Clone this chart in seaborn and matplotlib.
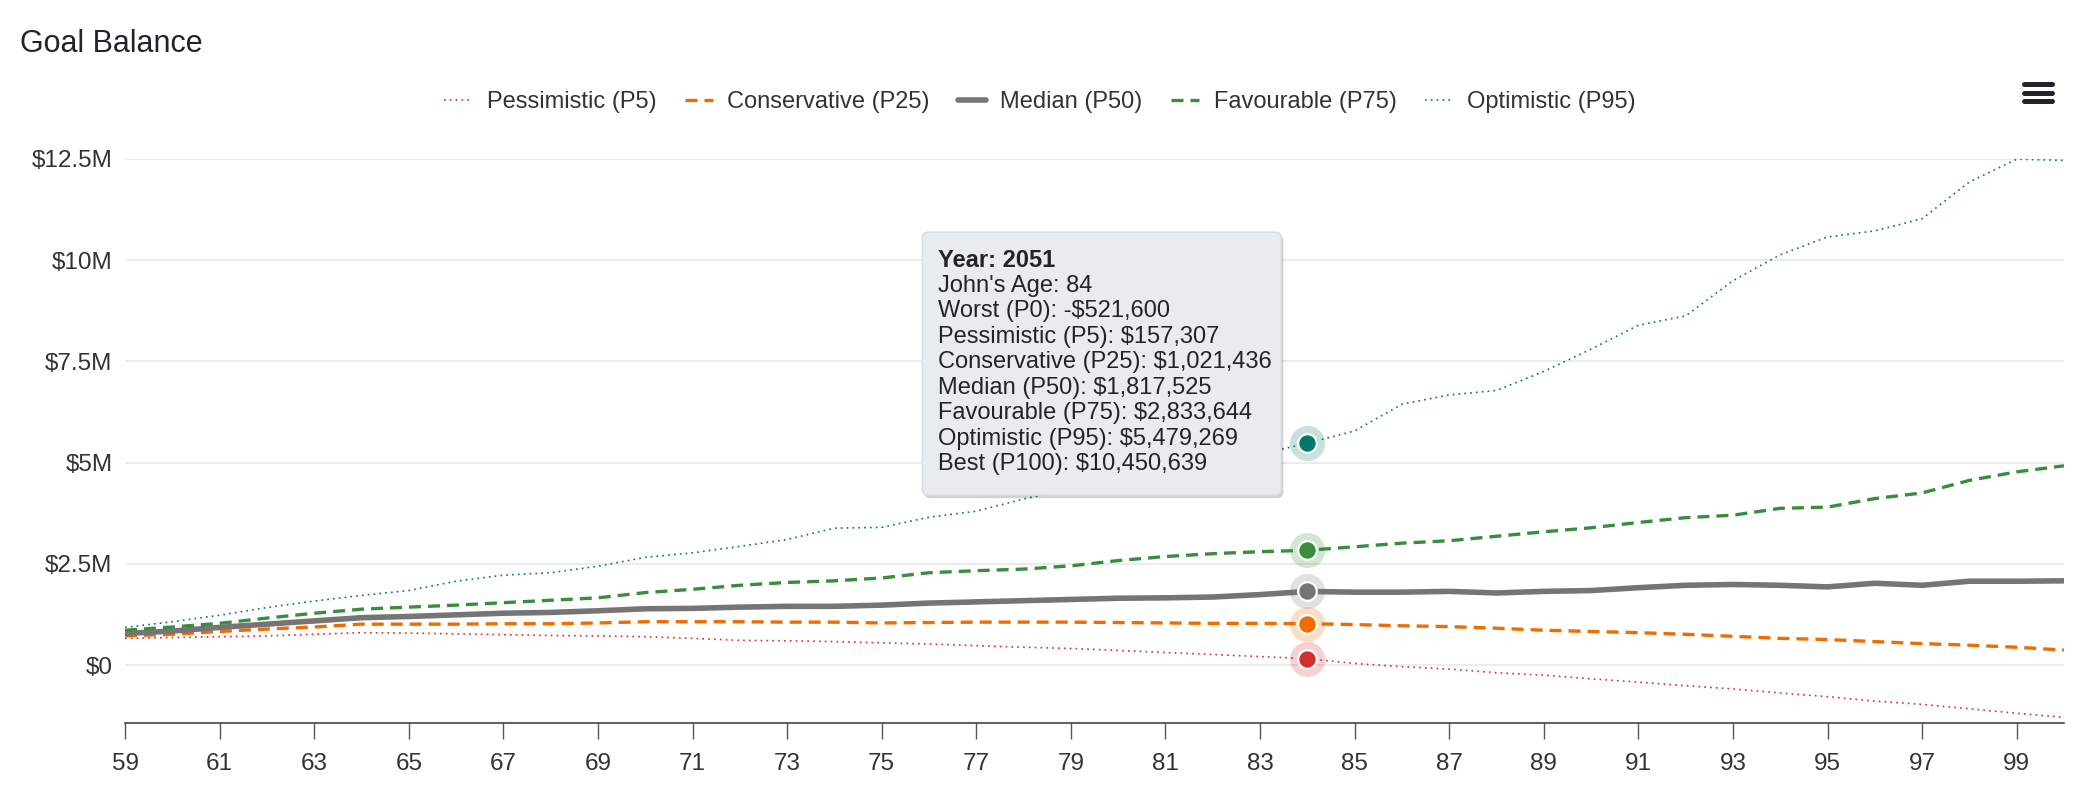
import matplotlib
matplotlib.use("Agg")
import pandas as pd
import matplotlib.pyplot as plt
import seaborn as sns
from matplotlib.lines import Line2D
from matplotlib.patches import FancyBboxPatch
from matplotlib.transforms import IdentityTransform
from matplotlib.ticker import FuncFormatter

# ages on the x axis
ages = list(range(59, 101))

# balances in $ millions
pessimistic = [0.66, 0.68, 0.70, 0.72, 0.76, 0.80, 0.79, 0.77, 0.75, 0.73, 0.72, 0.70, 0.66, 0.61,
               0.60, 0.58, 0.55, 0.52, 0.48, 0.44, 0.41, 0.36, 0.31, 0.26, 0.21, 0.157307,
               0.04, -0.04, -0.10, -0.19, -0.25, -0.34, -0.42, -0.51, -0.59, -0.69, -0.78, -0.89,
               -0.97, -1.08, -1.19, -1.29]
conservative = [0.72, 0.76, 0.83, 0.89, 0.94, 1.01, 1.01, 1.01, 1.02, 1.02, 1.04, 1.07, 1.07, 1.07,
                1.06, 1.06, 1.04, 1.05, 1.06, 1.06, 1.06, 1.05, 1.04, 1.03, 1.03, 1.021436,
                1.00, 0.97, 0.95, 0.91, 0.86, 0.83, 0.80, 0.76, 0.71, 0.66, 0.63, 0.58, 0.53,
                0.49, 0.44, 0.37]
median = [0.78, 0.84, 0.93, 1.01, 1.09, 1.17, 1.20, 1.24, 1.28, 1.30, 1.34, 1.39, 1.40, 1.43,
          1.45, 1.45, 1.48, 1.53, 1.56, 1.59, 1.62, 1.65, 1.66, 1.68, 1.74, 1.817525,
          1.80, 1.80, 1.82, 1.78, 1.82, 1.84, 1.91, 1.97, 1.99, 1.97, 1.93, 2.02, 1.97,
          2.07, 2.07, 2.08]
favourable = [0.86, 0.94, 1.03, 1.16, 1.28, 1.38, 1.43, 1.48, 1.54, 1.60, 1.66, 1.79, 1.87, 1.97,
              2.04, 2.08, 2.15, 2.28, 2.33, 2.37, 2.45, 2.58, 2.68, 2.75, 2.80, 2.833644,
              2.92, 3.01, 3.07, 3.18, 3.29, 3.39, 3.52, 3.64, 3.70, 3.87, 3.90, 4.11, 4.25,
              4.56, 4.77, 4.92]
optimistic = [0.93, 1.07, 1.23, 1.42, 1.58, 1.72, 1.84, 2.07, 2.22, 2.28, 2.44, 2.66, 2.77, 2.93,
              3.10, 3.38, 3.40, 3.65, 3.80, 4.10, 4.35, 4.55, 4.75, 4.95, 5.20, 5.479269,
              5.78, 6.44, 6.67, 6.78, 7.25, 7.80, 8.39, 8.62, 9.49, 10.13, 10.57, 10.72, 11.02,
              11.93, 12.49, 12.46]

series_names = ["Pessimistic (P5)", "Conservative (P25)", "Median (P50)",
                "Favourable (P75)", "Optimistic (P95)"]
series_values = [pessimistic, conservative, median, favourable, optimistic]
colors = ["#d32f2f", "#ef6c00", "#757575", "#388e3c", "#00796b"]
widths = [1.2, 2.4, 4.0, 2.4, 1.2]
dash_styles = [(1, 2.5), (3.6, 2.1), "", (3.6, 2.1), (1, 2.5)]

y_ticks = [0, 2.5, 5, 7.5, 10, 12.5]
x_ticks = list(range(59, 101, 2))

# tooltip content
tooltip_year = 2051
tooltip_age = 84
owner = "John"
worst_value = -521600
best_value = 10450639

df = pd.concat([pd.DataFrame({"age": ages, "value": v, "series": n})
                for n, v in zip(series_names, series_values)], ignore_index=True)

sns.set_theme(style="white")
plt.rcParams["font.family"] = ["Liberation Sans", "DejaVu Sans"]
text_color = "#333333"

fig = plt.figure(figsize=(20.8, 7.98), dpi=100)
ax = fig.add_axes([0.0601, 0.094, 0.9322, 0.707])

sns.lineplot(data=df, x="age", y="value", hue="series", style="series", size="series",
             palette=dict(zip(series_names, colors)),
             dashes=dict(zip(series_names, dash_styles)),
             sizes=dict(zip(series_names, widths)),
             hue_order=series_names, style_order=series_names, size_order=series_names,
             errorbar=None, legend=False, ax=ax)

# highlighted points for the hovered age
i = ages.index(tooltip_age)
for vals, c in zip(series_values, colors):
    ax.scatter([tooltip_age], [vals[i]], s=640, color=c, alpha=0.22, lw=0, zorder=5)
    ax.scatter([tooltip_age], [vals[i]], s=180, color=c, edgecolor="white", lw=1.6, zorder=6)

ax.set_xlim(59, 100)
ax.set_ylim(-1.43, 12.5)
ax.set_xticks(x_ticks)
ax.set_yticks(y_ticks)
ax.yaxis.set_major_formatter(FuncFormatter(
    lambda v, p: "$0" if v == 0 else f"${v:g}M"))
ax.set_xlabel("")
ax.set_ylabel("")
ax.grid(axis="y", color="#e3e5ea", lw=1.1)
ax.grid(axis="x", visible=False)
for s in ["left", "top", "right"]:
    ax.spines[s].set_visible(False)
ax.spines["bottom"].set_color("#333333")
ax.spines["bottom"].set_linewidth(1.1)
ax.tick_params(axis="x", bottom=True, direction="out", length=11.5, width=1.0, color="#555555",
               labelsize=17.5, labelcolor=text_color, pad=10)
ax.tick_params(axis="y", left=False, length=0, labelsize=17.5, labelcolor=text_color, pad=9)

fig.text(20 / 2080, 1 - 44 / 798, "Goal Balance", fontsize=22, ha="left", va="center",
         color="#212529")

handles = [Line2D([], [], color=c, lw=w, dashes=d if d else (None, None))
           for c, w, d in zip(colors, widths, dash_styles)]
handles[2] = Line2D([], [], color=colors[2], lw=widths[2])
fig.legend(handles, series_names, loc="center", bbox_to_anchor=(0.5, 1 - 102 / 798), ncol=5,
           frameon=False, fontsize=17, handlelength=1.2, handletextpad=0.6,
           columnspacing=1.2, labelcolor=text_color)

# hamburger menu icon
for yy in [84, 92.5, 101]:
    fig.add_artist(Line2D([2024 / 2080, 2052 / 2080], [1 - yy / 798] * 2, color="#212529",
                          lw=3.6, solid_capstyle="round", transform=fig.transFigure))

# tooltip, anchored to the highlighted optimistic point
fig.canvas.draw()
px, py = ax.transData.transform((tooltip_age, optimistic[i]))
box_w, box_h = 359, 263
bx = px - 26 - box_w
btop = py + 211
shadow = FancyBboxPatch((bx + 2, btop - box_h - 3), box_w, box_h,
                        boxstyle="round,pad=0,rounding_size=6", transform=IdentityTransform(),
                        fc="black", ec="none", alpha=0.18, zorder=8)
box = FancyBboxPatch((bx, btop - box_h), box_w, box_h,
                     boxstyle="round,pad=0,rounding_size=6", transform=IdentityTransform(),
                     fc="#e9ecef", ec="#d8dbdf", lw=1, zorder=9)
fig.add_artist(shadow)
fig.add_artist(box)


def money(v):
    v = round(v)
    return f"-${abs(v):,}" if v < 0 else f"${v:,}"


lines = [f"Year: {tooltip_year}", f"{owner}'s Age: {tooltip_age}",
         f"Worst (P0): {money(worst_value)}"]
lines += [f"{n}: {money(v[i] * 1e6)}" for n, v in zip(series_names, series_values)]
lines += [f"Best (P100): {money(best_value)}"]
for k, t in enumerate(lines):
    fig.text(bx + 16, btop - 28 - k * 25.5, t, transform=IdentityTransform(),
             fontsize=17, ha="left", va="center", color="#212529",
             fontweight="bold" if k == 0 else "normal", zorder=10)

fig.savefig("out.png", dpi=100)
